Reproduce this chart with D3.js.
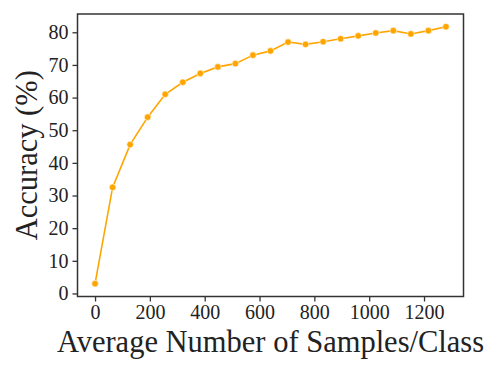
<!DOCTYPE html>
<html>
<head>
<meta charset="utf-8">
<script src="https://cdn.jsdelivr.net/npm/d3@7"></script>
<style>
body { margin: 0; background: #fff; }
svg text { font-family: "Liberation Serif", "Times New Roman", serif; fill: #222; }
</style>
</head>
<body>
<svg id="chart" width="498" height="374"></svg>
<script>
// samples per class (x) and accuracy in % (y)
var samples = [0, 64, 128, 192, 256, 320, 384, 448, 512, 576, 640,
               704, 768, 832, 896, 960, 1024, 1088, 1152, 1216, 1280];
var accuracy = [3.0, 32.5, 45.6, 54.0, 61.0, 64.7, 67.4, 69.4, 70.4, 73.0, 74.3,
                77.0, 76.3, 77.1, 78.0, 78.9, 79.8, 80.5, 79.5, 80.5, 81.7];
var xTicks = [0, 200, 400, 600, 800, 1000, 1200];
var yTicks = [0, 10, 20, 30, 40, 50, 60, 70, 80];

var svg = d3.select("#chart");
var pLeft = 77.5, pRight = 463.5, pTop = 14, pBottom = 296.5;

var x = d3.scaleLinear().domain([-64, 1344]).range([pLeft, pRight]);
var y = d3.scaleLinear().domain([-0.93, 85.6]).range([pBottom, pTop]);

var data = samples.map(function (d, i) { return {x: d, y: accuracy[i]}; });

// axes
var xAxis = svg.append("g")
    .attr("transform", "translate(0," + pBottom + ")")
    .call(d3.axisBottom(x).tickValues(xTicks).tickFormat(d3.format("d"))
        .tickSize(5).tickPadding(3));
var yAxis = svg.append("g")
    .attr("transform", "translate(" + pLeft + ",0)")
    .call(d3.axisLeft(y).tickValues(yTicks).tickFormat(d3.format("d"))
        .tickSize(5).tickPadding(4));

[xAxis, yAxis].forEach(function (g) {
    g.select(".domain").remove();
    g.selectAll(".tick line").attr("stroke", "#333").attr("stroke-width", 1.3);
    g.selectAll(".tick text")
        .style("font-size", "20px")
        .attr("fill", "#222");
});

// frame
svg.append("rect")
    .attr("x", pLeft).attr("y", pTop)
    .attr("width", pRight - pLeft).attr("height", pBottom - pTop)
    .attr("fill", "none")
    .attr("stroke", "#333")
    .attr("stroke-width", 1.5);

// line + markers
svg.append("path")
    .datum(data)
    .attr("fill", "none")
    .attr("stroke", "orange")
    .attr("stroke-width", 1.6)
    .attr("d", d3.line().x(function (d) { return x(d.x); }).y(function (d) { return y(d.y); }));

svg.append("g").selectAll("circle")
    .data(data)
    .enter().append("circle")
    .attr("cx", function (d) { return x(d.x); })
    .attr("cy", function (d) { return y(d.y); })
    .attr("r", 3.3)
    .attr("fill", "orange")
    .attr("stroke", "#fff")
    .attr("stroke-width", 0.6);

// axis titles
svg.append("text")
    .attr("x", 270.5)
    .attr("y", 352)
    .attr("text-anchor", "middle")
    .style("font-size", "30.5px")
    .text("Average Number of Samples/Class");

svg.append("text")
    .attr("transform", "translate(37," + ((pTop + pBottom) / 2) + ") rotate(-90)")
    .attr("text-anchor", "middle")
    .style("font-size", "30.5px")
    .text("Accuracy (%)");
</script>
</body>
</html>
